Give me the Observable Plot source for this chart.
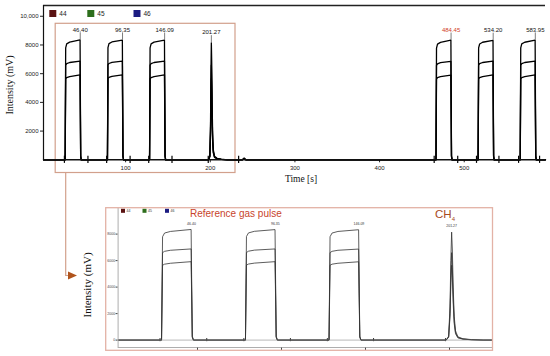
<!DOCTYPE html>
<html>
<head>
<meta charset="utf-8">
<script src="https://cdn.jsdelivr.net/npm/d3@7"></script>
<script src="https://cdn.jsdelivr.net/npm/@observablehq/plot@0.6"></script>
<style>
  html, body { margin: 0; padding: 0; background: #fff; }
  #wrap { position: relative; width: 550px; height: 356px; overflow: hidden; background: #fff; }
  #wrap > svg { position: absolute; }
</style>
</head>
<body>
<div id="wrap"></div>
<script>
// ---------- data ----------
const seriesNames = ["44", "45", "46"];
const seriesColors = ["#5a1212", "#2d6e1c", "#1c1c82"];

// time axis of the trace (s)
const time = [
  3,
  27.9, 28.6, 29.2, 30.4, 33.9, 46.2, 46.9, 47.6,
  77.85, 78.55, 79.15, 80.35, 83.85, 96.15, 96.85, 97.55,
  127.6, 128.3, 128.9, 130.1, 133.6, 145.9, 146.6, 147.3,
  198.0, 199.5, 200.3, 200.8, 201.27, 201.7, 202.2, 202.8, 203.6, 205, 208, 213, 220,
  238, 240, 242,
  465.95, 466.65, 467.25, 468.45, 471.95, 484.25, 484.95, 485.65,
  515.7, 516.4, 517.0, 518.2, 521.7, 534.0, 534.7, 535.4,
  565.45, 566.15, 566.75, 567.95, 571.45, 583.75, 584.45, 585.15,
  596
];
// intensities (mV)
const mass44 = [
  0,
  0, 0, 7800, 8080, 8200, 8350, 300, 0,
  0, 0, 7820, 8090, 8210, 8340, 300, 0,
  0, 0, 7800, 8080, 8200, 8330, 300, 0,
  0, 300, 2500, 6000, 8150, 6800, 4000, 1800, 700, 250, 100, 40, 0,
  0, 120, 0,
  0, 0, 7780, 8060, 8180, 8330, 300, 0,
  0, 0, 7800, 8070, 8190, 8320, 300, 0,
  0, 0, 7800, 8080, 8190, 8340, 300, 0,
  0
];
const mass45 = [
  0,
  0, 0, 6600, 6700, 6780, 6880, 250, 0,
  0, 0, 6610, 6710, 6790, 6880, 250, 0,
  0, 0, 6600, 6700, 6780, 6870, 250, 0,
  0, 240, 2000, 4850, 6600, 5500, 3250, 1450, 560, 200, 80, 30, 0,
  0, 90, 0,
  0, 0, 6580, 6690, 6770, 6860, 250, 0,
  0, 0, 6590, 6700, 6780, 6870, 250, 0,
  0, 0, 6590, 6700, 6780, 6880, 250, 0,
  0
];
const mass46 = [
  0,
  0, 0, 5650, 5730, 5800, 5920, 200, 0,
  0, 0, 5660, 5740, 5810, 5920, 200, 0,
  0, 0, 5650, 5730, 5800, 5910, 200, 0,
  0, 210, 1750, 4150, 5650, 4700, 2800, 1250, 480, 170, 70, 25, 0,
  0, 70, 0,
  0, 0, 5630, 5720, 5790, 5900, 200, 0,
  0, 0, 5640, 5730, 5800, 5910, 200, 0,
  0, 0, 5640, 5730, 5800, 5920, 200, 0,
  0
];

// labelled peaks
const peakTimes = [46.40, 96.35, 146.09, 201.27, 484.45, 534.20, 583.95];
const peakLabels = ["46.40", "96.35", "146.09", "201.27", "484.45", "534.20", "583.95"];
const peakTops = [8350, 8340, 8330, 8150, 8330, 8320, 8340];
const peakLabelColors = ["#111", "#111", "#111", "#111", "#d0402a", "#111", "#111"];

// peak start / end markers on the baseline
const markerTimes = [27.7, 55.5, 77.6, 105.3, 127.3, 154.8, 197.6, 233.5, 464.5, 492.3, 514.5, 541.0, 564.2, 589.0];

// axis ticks
const xTicksMain = [100, 200, 300, 400, 500];
const yTicksMain = [2000, 4000, 6000, 8000, 10000];
const xTicksInset = [50, 100, 150, 200];
const yTicksInset = [0, 2000, 4000, 6000, 8000];

// domains
const xDomainMain = [3, 596];
const yDomainMain = [0, 10750];
const xDomainInset = [2.74, 225.6];
const yDomainInset = [-558, 9932];

// zoomed window highlighted in the main chart
const zoomWindow = [{x1: 17.4, x2: 229.8, y1: -920, y2: 9475}];

// ---------- build ----------
const rows = time.map((t, i) => ({t, "44": mass44[i], "45": mass45[i], "46": mass46[i]}));
const peaks = peakTimes.map((t, i) => ({t, label: peakLabels[i], top: peakTops[i], color: peakLabelColors[i]}));
const wrap = document.getElementById("wrap");

const main = Plot.plot({
  width: 550, height: 190,
  marginLeft: 43, marginRight: 5, marginTop: 5, marginBottom: 30.7,
  style: {fontFamily: "'Liberation Sans', Arial, sans-serif", fontSize: "6px", color: "#222", background: "transparent"},
  x: {domain: xDomainMain, ticks: xTicksMain, tickSize: 3, tickPadding: 3, tickFormat: d => String(d), label: null},
  y: {domain: yDomainMain, ticks: yTicksMain, tickSize: 3, tickPadding: 2,
      tickFormat: d => d === 10000 ? "10,000" : String(d), label: null},
  marks: [
    Plot.rect(zoomWindow, {x1: "x1", x2: "x2", y1: "y1", y2: "y2", fill: "none", stroke: "#d2a08c", strokeWidth: 1.2}),
    ...seriesNames.slice().reverse().map(s => Plot.line(rows, {x: "t", y: s, stroke: "#000", strokeWidth: 1.3})),
    Plot.ruleX(markerTimes, {x: d => d, y1: -250, y2: 250, stroke: "#000", strokeWidth: 1.2}),
    Plot.ruleX(peaks, {x: "t", y1: "top", y2: d => d.top + 500, stroke: "#444", strokeWidth: 0.7}),
    Plot.text(peaks, {x: "t", y: d => d.top + 720, text: "label", fill: "color", fontSize: 6, textAnchor: "middle"}),
    Plot.ruleY([0], {stroke: "#111", strokeWidth: 1.5}),
    Plot.ruleY([yDomainMain[1]], {stroke: "#222", strokeWidth: 1.5}),
    Plot.ruleX([xDomainMain[0]], {stroke: "#111", strokeWidth: 1.2})
  ]
});
main.style.left = "0px";
main.style.top = "0px";
wrap.appendChild(main);

const inset = Plot.plot({
  width: 387, height: 143,
  marginLeft: 11.6, marginRight: 1, marginTop: 0, marginBottom: 4,
  style: {fontFamily: "'Liberation Sans', Arial, sans-serif", fontSize: "3.5px", color: "#444", background: "#fff"},
  x: {domain: xDomainInset, ticks: xTicksInset, tickSize: 3, tickFormat: () => "", label: null},
  y: {domain: yDomainInset, ticks: yTicksInset, tickSize: 2, tickPadding: 1, tickFormat: d => String(d), label: null},
  marks: [
    ...seriesNames.slice().reverse().map(s => Plot.line(rows, {x: "t", y: s, stroke: "#333", strokeWidth: 0.8, clip: true})),
    Plot.ruleX(markerTimes.filter(t => t < 225), {x: d => d, y1: -120, y2: 120, stroke: "#333", strokeWidth: 1}),
    Plot.ruleY([0], {stroke: "#888", strokeWidth: 0.6}),
    Plot.ruleY([yDomainInset[0]], {stroke: "#999", strokeWidth: 0.8}),
    Plot.ruleX([xDomainInset[0]], {stroke: "#999", strokeWidth: 0.8}),
    Plot.text(peaks.filter(p => p.t < 225), {x: "t", y: d => d.top + 450, text: "label", fontSize: 3.5, fill: "#333", textAnchor: "middle"})
  ]
});
inset.style.left = "105.7px";
inset.style.top = "207.7px";
wrap.appendChild(inset);

// ---------- annotations overlay ----------
const ov = d3.select(wrap).append("svg")
  .attr("width", 550).attr("height", 356)
  .style("left", "0px").style("top", "0px").style("pointer-events", "none");

// main legend
const legX = [49.3, 87.3, 133.5];
seriesNames.forEach((s, i) => {
  ov.append("rect").attr("x", legX[i]).attr("y", 10).attr("width", 7).attr("height", 7).attr("fill", seriesColors[i]);
  ov.append("text").attr("x", legX[i] + 10).attr("y", 16).text(s)
    .attr("font-family", "'Liberation Sans', Arial, sans-serif").attr("font-size", 6.5).attr("fill", "#222");
});
// main axis titles
ov.append("text").attr("transform", "translate(13,85) rotate(-90)").attr("text-anchor", "middle")
  .attr("font-family", "'Liberation Serif', 'Times New Roman', serif").attr("font-size", 10).attr("fill", "#111")
  .text("Intensity (mV)");
ov.append("text").attr("x", 301).attr("y", 182).attr("text-anchor", "middle")
  .attr("font-family", "'Liberation Serif', 'Times New Roman', serif").attr("font-size", 9.5).attr("fill", "#111")
  .text("Time [s]");

// connector arrow
ov.append("path").attr("d", "M65.7,172.5 V275.5 H69").attr("fill", "none").attr("stroke", "#d2a08c").attr("stroke-width", 1.2);
ov.append("path").attr("d", "M68,271.5 L68,279.5 L77,275.5 Z").attr("fill", "#b0541c");

// inset frame
ov.append("rect").attr("x", 105.7).attr("y", 207.7).attr("width", 386.8).attr("height", 142.6)
  .attr("fill", "none").attr("stroke", "#e3b2a6").attr("stroke-width", 1.3);
// inset legend
const legXi = [121, 142.5, 165];
seriesNames.forEach((s, i) => {
  ov.append("rect").attr("x", legXi[i]).attr("y", 208.8).attr("width", 4).attr("height", 4).attr("fill", seriesColors[i]);
  ov.append("text").attr("x", legXi[i] + 5.5).attr("y", 212.3).text(s)
    .attr("font-family", "'Liberation Sans', Arial, sans-serif").attr("font-size", 3.5).attr("fill", "#333");
});
ov.append("text").attr("x", 190).attr("y", 217).text("Reference gas pulse")
  .attr("font-family", "'Liberation Sans', Arial, sans-serif").attr("font-size", 10).attr("fill", "#c8442c");
const ch = ov.append("text").attr("x", 435).attr("y", 218)
  .attr("font-family", "'Liberation Sans', Arial, sans-serif").attr("font-size", 11.5).attr("fill", "#a84a22");
ch.append("tspan").text("CH");
ch.append("tspan").attr("font-size", 6).attr("dy", 3).text("4");
ov.append("text").attr("transform", "translate(91,285) rotate(-90)").attr("text-anchor", "middle")
  .attr("font-family", "'Liberation Serif', 'Times New Roman', serif").attr("font-size", 11).attr("fill", "#111")
  .text("Intensity (mV)");
</script>
</body>
</html>
